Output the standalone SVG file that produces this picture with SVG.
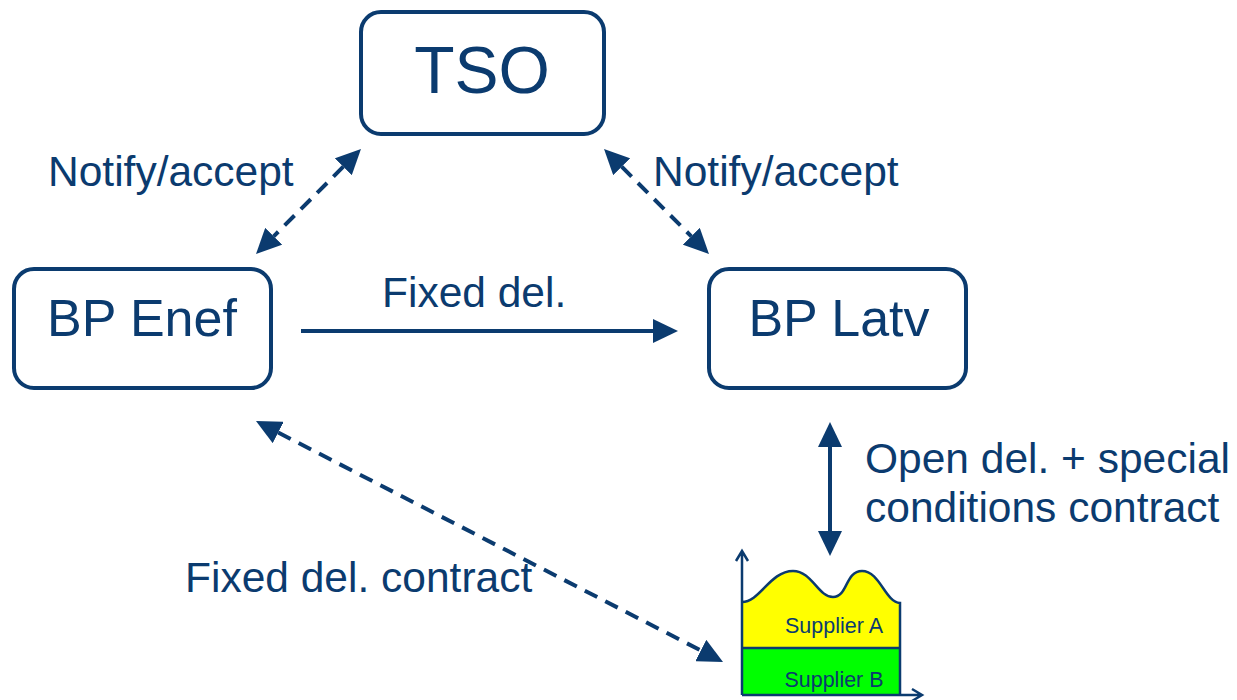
<svg xmlns="http://www.w3.org/2000/svg" width="1237" height="700" viewBox="0 0 1237 700">
<style>
.box{fill:#fff;stroke:#0b3b6f;stroke-width:4}
.t{font-family:"Liberation Sans",Arial,sans-serif;fill:#0b3b6f}
.lbl{font-size:42.5px}
.conn{stroke:#0b3b6f;stroke-width:4;fill:none}
.dash{stroke-dasharray:14 9}
.ax{stroke:#0b3b6f;stroke-width:2.5;fill:none}
</style>
<defs>
<marker id="ah" viewBox="0 0 25 24" refX="0" refY="12" markerWidth="25" markerHeight="24" orient="auto-start-reverse" markerUnits="userSpaceOnUse">
<path d="M0,0 L25,12 L0,24 z" fill="#0b3b6f"/>
</marker>
</defs>
<rect width="1237" height="700" fill="#fff"/>
<g id="tso">
<rect class="box" x="361" y="12" width="243" height="122" rx="20"/>
<text class="t" x="482" y="93" font-size="66" text-anchor="middle">TSO</text>
</g>
<g id="bp-enef">
<rect class="box" x="14" y="269" width="257" height="119" rx="20"/>
<text class="t" x="142" y="336" font-size="52" text-anchor="middle">BP Enef</text>
</g>
<g id="bp-latv">
<rect class="box" x="709" y="269" width="257" height="119" rx="20"/>
<text class="t" x="839" y="336" font-size="52" text-anchor="middle">BP Latv</text>
</g>
<g id="chart">
<path d="M742,648 L742,602 C760,602 770,571 793,571 C812,571 818,597 833,597 C848,597 845,571 862,571 C880,571 885,602 900,603 L900,648 Z" fill="#ffff00"/>
<rect x="742" y="648" width="158" height="47" fill="#00ff00"/>
<path class="ax" d="M742,602 C760,602 770,571 793,571 C812,571 818,597 833,597 C848,597 845,571 862,571 C880,571 885,602 900,603 L900,695"/>
<line class="ax" x1="742" y1="648" x2="900" y2="648"/>
<path class="ax" d="M742,695 L742,551 M736,561 L742,551 L748,561"/>
<path class="ax" d="M742,695 L922,695 M912,689 L922,695 L912,701"/>
<text class="t" x="834" y="633" font-size="21.5" text-anchor="middle">Supplier A</text>
<text class="t" x="834" y="687" font-size="21.5" text-anchor="middle">Supplier B</text>
</g>
<g id="connectors">
<line class="conn dash" x1="343.3" y1="166.7" x2="273.7" y2="236.3" marker-start="url(#ah)" marker-end="url(#ah)"/>
<line class="conn dash" x1="621.7" y1="166.7" x2="691.3" y2="236.3" marker-start="url(#ah)" marker-end="url(#ah)"/>
<line class="conn" x1="301" y1="331" x2="653" y2="331" marker-end="url(#ah)"/>
<line class="conn" x1="830" y1="447" x2="830" y2="531" marker-start="url(#ah)" marker-end="url(#ah)"/>
<line class="conn dash" x1="278.2" y1="432.5" x2="700.8" y2="650.5" marker-start="url(#ah)" marker-end="url(#ah)"/>
</g>
<g id="labels">
<text class="t lbl" x="48" y="186">Notify/accept</text>
<text class="t lbl" x="653" y="186">Notify/accept</text>
<text class="t lbl" x="382" y="307">Fixed del.</text>
<text class="t lbl" x="865" y="473">Open del. + special</text>
<text class="t lbl" x="865" y="522">conditions contract</text>
<text class="t lbl" x="185" y="592">Fixed del. contract</text>
</g>
</svg>
